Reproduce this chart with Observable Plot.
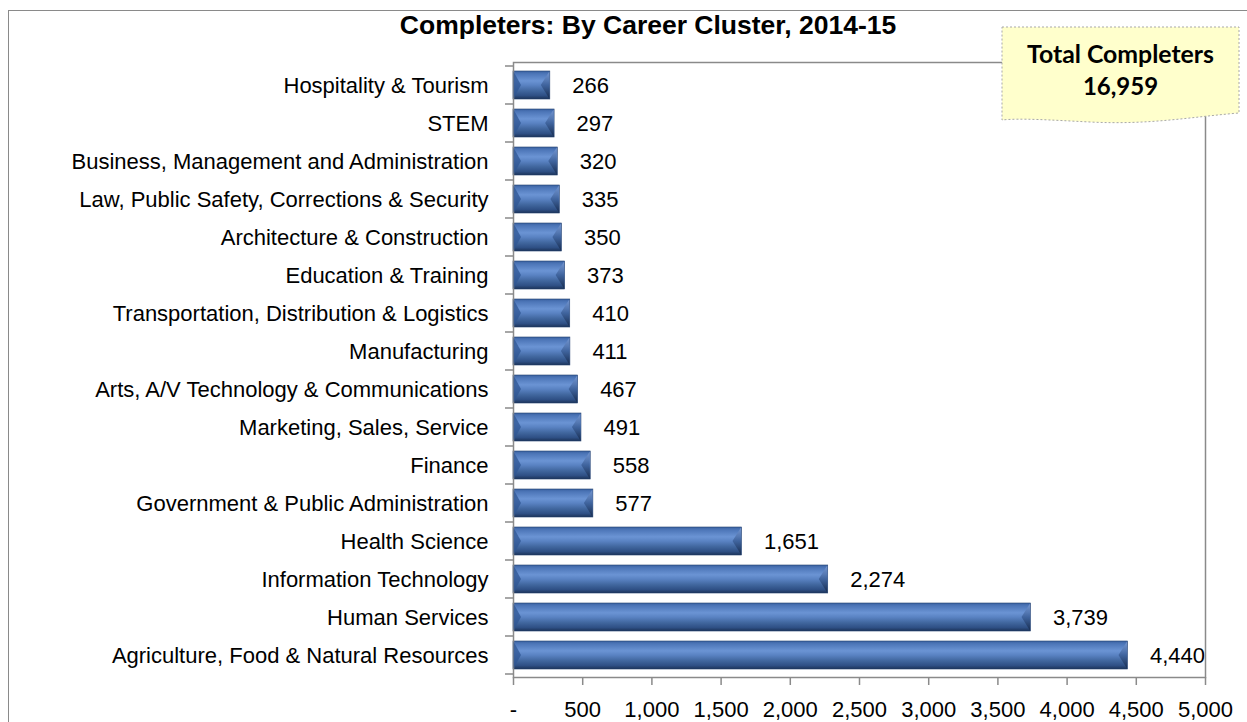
<!DOCTYPE html>
<html>
<head>
<meta charset="utf-8">
<script src="https://cdn.jsdelivr.net/npm/d3@7"></script>
<script src="https://cdn.jsdelivr.net/npm/@observablehq/plot@0.6"></script>
<style>
  html, body { margin: 0; padding: 0; background: #fff; }
  #wrap { position: relative; width: 1247px; height: 722px; overflow: hidden; }
  #frame { position: absolute; left: 7.5px; top: 9.5px; width: 1400px; height: 900px; border-left: 1.5px solid #8a8a8a; border-top: 1.5px solid #8a8a8a; }
  #chart { position: absolute; left: 0; top: 0; }
  #chart svg { display: block; }
  #title { position: absolute; left: 0; width: 1296px; text-align: center; font-weight: bold; line-height: 1; color: #000; white-space: nowrap; font-family: "Liberation Sans", Arial, sans-serif; font-size: 26.5px; }
  #note { position: absolute; left: 1000px; top: 25px; width: 242px; height: 100px; }
</style>
</head>
<body>
<div id="wrap">
  <div id="frame"></div>
  <div id="chart"></div>
  <div id="title"></div>
  <div id="note"></div>
</div>
<script>
// ---- data ----
const titleText = "Completers: By Career Cluster, 2014-15";
const categories = [
  "Hospitality & Tourism",
  "STEM",
  "Business, Management and Administration",
  "Law, Public Safety, Corrections & Security",
  "Architecture & Construction",
  "Education & Training",
  "Transportation, Distribution & Logistics",
  "Manufacturing",
  "Arts, A/V Technology & Communications",
  "Marketing, Sales, Service",
  "Finance",
  "Government & Public Administration",
  "Health Science",
  "Information Technology",
  "Human Services",
  "Agriculture, Food & Natural Resources"
];
const completers = [266, 297, 320, 335, 350, 373, 410, 411, 467, 491, 558, 577, 1651, 2274, 3739, 4440];
const xTicks = [0, 500, 1000, 1500, 2000, 2500, 3000, 3500, 4000, 4500, 5000];
const totalLabel = "Total Completers";
const totalValue = 16959;

const data = categories.map((c, i) => ({cluster: c, value: completers[i]}));
const fmt = d3.format(",");
const face = "'Liberation Sans', Arial, sans-serif";
const labelSize = 22;

const t = document.getElementById("title");
t.textContent = titleText;
t.style.top = (34 - 0.847 * 26.5) + "px";

const plot = Plot.plot({
  width: 1247,
  height: 722,
  marginLeft: 513,
  marginRight: 42,
  marginTop: 62,
  marginBottom: 45,
  style: {fontFamily: face, fontSize: labelSize + "px", color: "#000", background: "transparent", overflow: "visible"},
  x: {domain: [0, 5000]},
  y: {domain: categories, paddingInner: 0.27, paddingOuter: 0.135},
  marks: [
    Plot.barX(data, {x: "value", y: "cluster", fill: "url(#bevel)", stroke: "#24406e", strokeWidth: 0.6}),
    Plot.text(data, {x: "value", y: "cluster", text: d => fmt(d.value), textAnchor: "start", dx: 22, fontSize: labelSize, fill: "#000"}),
    Plot.frame({stroke: "#8a8a8a", strokeWidth: 1.5}),
    Plot.axisX({ticks: xTicks, tickFormat: d => d === 0 ? "-" : fmt(d), tickSize: 8, tickPadding: 16, stroke: "#8a8a8a", strokeWidth: 1.5, color: "#000", fontSize: labelSize, label: null}),
    Plot.axisY({tickSize: 0, tickPadding: 25, fontSize: labelSize, color: "#000", label: null})
  ]
});
document.getElementById("chart").appendChild(plot);

// gradient for bevelled bars
const svg = d3.select(plot);
const defs = svg.insert("defs", ":first-child");
const grad = defs.append("linearGradient").attr("id", "bevel").attr("x1", 0).attr("y1", 0).attr("x2", 0).attr("y2", 1);
[[0, "#3a62a2"], [0.1, "#4d76b8"], [0.35, "#6b94d4"], [0.5, "#5a83c3"], [0.7, "#41679f"], [0.88, "#2e4f84"], [1, "#1c3358"]]
  .forEach(([o, c]) => grad.append("stop").attr("offset", o).attr("stop-color", c));
const gradR = defs.append("linearGradient").attr("id", "capR").attr("x1", 0).attr("y1", 0).attr("x2", 0).attr("y2", 1);
[[0, "#7d9dd6"], [0.5, "#3b5f98"], [1, "#16294a"]]
  .forEach(([o, c]) => gradR.append("stop").attr("offset", o).attr("stop-color", c));

// bevel end caps derived from rendered bars
const xs = plot.scale("x"), ys = plot.scale("y");
const capLayer = svg.append("g");
data.forEach(d => {
  const x0 = xs.apply(0), x1 = xs.apply(d.value);
  const y0 = ys.apply(d.cluster), h = ys.bandwidth;
  capLayer.append("polygon")
    .attr("points", `${x0+0.5},${y0+0.5} ${x0+8},${y0+h/2} ${x0+0.5},${y0+h-0.5}`)
    .attr("fill", "#2f5593").attr("opacity", 0.75);
  capLayer.append("polygon")
    .attr("points", `${x1-0.5},${y0+0.5} ${x1-9},${y0+h/2} ${x1-0.5},${y0+h-0.5}`)
    .attr("fill", "url(#capR)").attr("opacity", 0.85);
});

// category tick marks at band boundaries
const gap = ys.step - ys.bandwidth;
const bounds = categories.map(c => ys.apply(c) - gap / 2);
bounds.push(ys.apply(categories[categories.length - 1]) + ys.bandwidth + gap / 2);
const xz = xs.apply(0);
svg.append("g").selectAll("line").data(bounds).join("line")
  .attr("x1", xz - 8).attr("x2", xz).attr("y1", d => d).attr("y2", d => d)
  .attr("stroke", "#8a8a8a").attr("stroke-width", 1.5);

// sticky note
const note = d3.select("#note").append("svg").attr("width", 242).attr("height", 100);
note.append("path")
  .attr("d", "M2,2 H239 V88 C190,92 150,100 90,97 C50,95 20,93 2,95 Z")
  .attr("fill", "#ffffcc").attr("stroke", "#a8a8a8").attr("stroke-width", 1).attr("stroke-dasharray", "2,2");
note.append("text").attr("x", 120.5).attr("y", 38).attr("text-anchor", "middle")
  .attr("font-family", "Lato, 'Open Sans', sans-serif").attr("font-weight", "bold").attr("font-size", 24)
  .attr("textLength", 187).attr("lengthAdjust", "spacingAndGlyphs").text(totalLabel);
note.append("text").attr("x", 120.5).attr("y", 70).attr("text-anchor", "middle")
  .attr("font-family", "Lato, 'Open Sans', sans-serif").attr("font-weight", "bold").attr("font-size", 24)
  .text(fmt(totalValue));
</script>
</body>
</html>
